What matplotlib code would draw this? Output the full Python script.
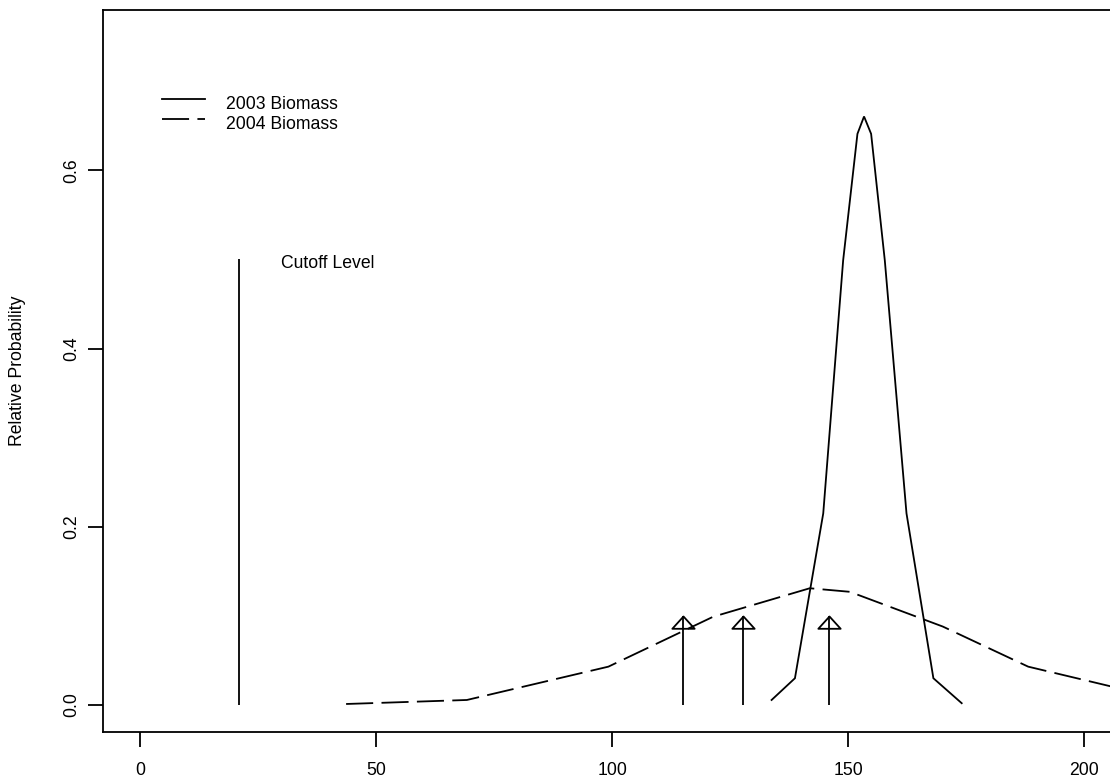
import matplotlib
matplotlib.use("Agg")
import matplotlib.pyplot as plt
from matplotlib.path import Path

plt.rcParams['font.family'] = ['Liberation Sans', 'DejaVu Sans']
plt.rcParams['lines.scale_dashes'] = False

# 2003 biomass relative probability
biomass_2003_x = [133.8, 138.75, 144.75, 148.97, 152.0, 153.4, 154.9, 157.8, 162.4, 168.1, 174.1]
biomass_2003_p = [0.0056, 0.030, 0.215, 0.499, 0.641, 0.6605, 0.641, 0.499, 0.215, 0.030, 0.002]

# 2004 biomass relative probability
biomass_2004_x = [43.6, 69.2, 99.2, 121.4, 141.9, 150.4, 170.1, 188.2, 208.0]
biomass_2004_p = [0.0011, 0.0056, 0.043, 0.099, 0.131, 0.127, 0.088, 0.043, 0.018]

# cutoff level and arrow markers
cutoff_x = 21.0
cutoff_top = 0.5
arrow_x = [115.1, 127.7, 146.0]
arrow_top = 0.1

x_ticks = [0, 50, 100, 150, 200]
y_ticks = [0.0, 0.2, 0.4, 0.6]
y_tick_labels = ["0.0", "0.2", "0.4", "0.6"]
legend_labels = ["2003 Biomass", "2004 Biomass"]

FS = 12.7
LW = 1.3
DASH = (0, (19.5, 6.0))

W, H = 1110, 782
fig = plt.figure(figsize=(W / 100, H / 100), dpi=100)
left_px, right_px, top_px, bottom_px = 102.7, 1121.6, 10.0, 731.7
ax = fig.add_axes([left_px / W, (H - bottom_px) / H,
                   (right_px - left_px) / W, (bottom_px - top_px) / H])
ax.set_xlim(-8, 208)
ax.set_ylim(-0.03, 0.78)

for sp in ax.spines.values():
    sp.set_linewidth(1.3)
    sp.set_color('black')

ax.set_xticks(x_ticks)
ax.set_xticklabels([str(v) for v in x_ticks], fontsize=FS)
ax.set_yticks(y_ticks)
ax.set_yticklabels(y_tick_labels, fontsize=FS, rotation=90, va='center')
ax.tick_params(axis='both', direction='out', length=10.5, width=1.3, colors='black')
ax.tick_params(axis='x', pad=11.0)
ax.tick_params(axis='y', pad=6.0)

ax.set_ylabel("Relative Probability", fontsize=FS, va='center')
ax.yaxis.set_label_coords((17.5 - left_px) / (right_px - left_px), 0.5)

# curves
ax.plot(biomass_2004_x, biomass_2004_p, color='black', lw=LW, linestyle=DASH,
        solid_joinstyle='miter', dash_joinstyle='miter')
ax.plot(biomass_2003_x, biomass_2003_p, color='black', lw=LW,
        solid_joinstyle='miter')

# cutoff line with label
ax.vlines(cutoff_x, 0, cutoff_top, color='black', lw=LW)
ax.text(29.9, 0.4955, "Cutoff Level", fontsize=FS, ha='left', va='center')

# arrows: shaft plus open triangular head
tri = Path([(-0.909, -1.0), (0.909, -1.0), (0, 0), (-0.909, -1.0)],
           [Path.MOVETO, Path.LINETO, Path.LINETO, Path.CLOSEPOLY])
ax.vlines(arrow_x, 0, arrow_top, color='black', lw=LW)
ax.plot(arrow_x, [arrow_top] * len(arrow_x), linestyle='none', marker=tri,
        markersize=17.7, markerfacecolor='none', markeredgecolor='black',
        markeredgewidth=LW)

# legend drawn by hand
ax.plot([4.5, 13.7], [0.6796, 0.6796], color='black', lw=LW)
ax.plot([4.5, 13.7], [0.6580, 0.6580], color='black', lw=LW, linestyle=DASH)
ax.text(18.1, 0.6692, legend_labels[0], fontsize=FS, ha='left', va='baseline')
ax.text(18.1, 0.6467, legend_labels[1], fontsize=FS, ha='left', va='baseline')

fig.savefig("out.png", dpi=100)
